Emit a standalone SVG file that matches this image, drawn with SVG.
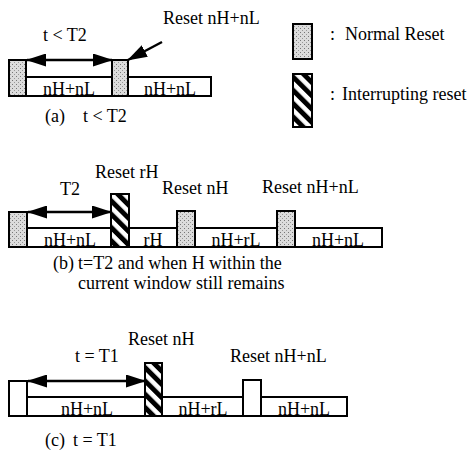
<svg xmlns="http://www.w3.org/2000/svg" width="471" height="451" viewBox="0 0 471 451">
<style>
text{font-family:"Liberation Serif","Times New Roman",serif;font-size:18px;fill:#000}
.c{text-anchor:middle}
.bar{fill:#fff;stroke:#000;stroke-width:2}
.nr{fill:url(#dots);stroke:#000;stroke-width:2}
.nw{fill:#fff;stroke:#000;stroke-width:2}
.ir{fill:url(#hatch);stroke:#000;stroke-width:2}
.arr{stroke:#000;stroke-width:2.5;fill:none}
</style>
<defs>
<pattern id="dots" width="4" height="4" patternUnits="userSpaceOnUse">
<rect width="4" height="4" fill="#dcdcdc"/>
<rect x="0" y="0" width="1" height="1" fill="#777"/>
<rect x="2" y="2" width="1" height="1" fill="#999"/>
</pattern>
<pattern id="hatch" width="9.4" height="9.4" patternUnits="userSpaceOnUse" patternTransform="rotate(-45)">
<rect width="9.4" height="9.4" fill="#fff"/>
<rect width="4.9" height="9.4" fill="#000"/>
</pattern>
<marker id="ah" markerUnits="userSpaceOnUse" markerWidth="20" markerHeight="13" refX="19" refY="6.5" orient="auto-start-reverse">
<path d="M0,0 L20,6.5 L0,13 z" fill="#000"/>
</marker>
</defs>

<!-- Legend -->
<g id="legend-normal">
<rect class="nr" x="293" y="24" width="19" height="35"/>
<text x="330" y="40">:</text>
<text x="345" y="40">Normal Reset</text>
</g>
<g id="legend-interrupt">
<rect class="ir" x="293" y="74" width="19" height="53"/>
<text x="330" y="100">:</text>
<text x="342" y="100">Interrupting reset</text>
</g>

<!-- Panel (a) -->
<g id="a-bar">
<rect class="bar" x="9" y="77" width="202" height="19"/>
<text class="c" x="69" y="95">nH+nL</text>
<text class="c" x="170" y="95">nH+nL</text>
</g>
<g id="a-block1"><rect class="nr" x="9" y="60" width="17" height="36"/></g>
<g id="a-block2"><rect class="nr" x="112" y="60" width="16" height="36"/></g>
<g id="a-labels">
<text x="43" y="41">t &lt; T2</text>
<text x="163" y="24">Reset nH+nL</text>
<text x="45" y="122">(a)</text>
<text x="83" y="122">t &lt; T2</text>
</g>

<!-- Panel (b) -->
<g id="b-bar">
<rect class="bar" x="9" y="228" width="373" height="19"/>
<text class="c" x="70" y="246">nH+nL</text>
<text class="c" x="153" y="246">rH</text>
<text class="c" x="236" y="246">nH+rL</text>
<text class="c" x="338" y="246">nH+nL</text>
</g>
<g id="b-block1"><rect class="nr" x="9" y="212" width="18" height="35"/></g>
<g id="b-block2"><rect class="ir" x="111" y="194" width="18" height="53"/></g>
<g id="b-block3"><rect class="nr" x="177" y="211" width="18" height="36"/></g>
<g id="b-block4"><rect class="nr" x="277" y="211" width="18" height="36"/></g>
<g id="b-labels">
<text x="95" y="178">Reset rH</text>
<text x="60" y="195">T2</text>
<text x="162" y="194">Reset nH</text>
<text x="262" y="193">Reset nH+nL</text>
<text x="53" y="268.5">(b)</text>
<text x="78" y="268.5">t=T2 and when H within the</text>
<text x="78" y="288.5">current window still remains</text>
</g>

<!-- Panel (c) -->
<g id="c-bar">
<rect class="bar" x="9" y="397" width="338" height="19"/>
<text class="c" x="87" y="415">nH+nL</text>
<text class="c" x="203" y="415">nH+rL</text>
<text class="c" x="304" y="415">nH+nL</text>
</g>
<g id="c-block1"><rect class="nw" x="9" y="381" width="18" height="35"/></g>
<g id="c-block2"><rect class="ir" x="145" y="363" width="17" height="53"/></g>
<g id="c-block3"><rect class="nw" x="243" y="380" width="18" height="36"/></g>
<g id="c-labels">
<text x="128" y="345">Reset nH</text>
<text x="75" y="362">t = T1</text>
<text x="230" y="362">Reset nH+nL</text>
<text x="45" y="446">(c)</text>
<text x="73" y="446">t = T1</text>
</g>

<!-- Connectors -->
<g id="connectors">
<line class="arr" x1="27" y1="60" x2="112" y2="60" marker-start="url(#ah)" marker-end="url(#ah)"/>
<line class="arr" x1="162" y1="42" x2="128" y2="60" marker-end="url(#ah)"/>
<line class="arr" x1="28" y1="212" x2="111" y2="212" marker-start="url(#ah)" marker-end="url(#ah)"/>
<line class="arr" x1="28" y1="381" x2="145" y2="381" marker-start="url(#ah)" marker-end="url(#ah)"/>
</g>
</svg>
